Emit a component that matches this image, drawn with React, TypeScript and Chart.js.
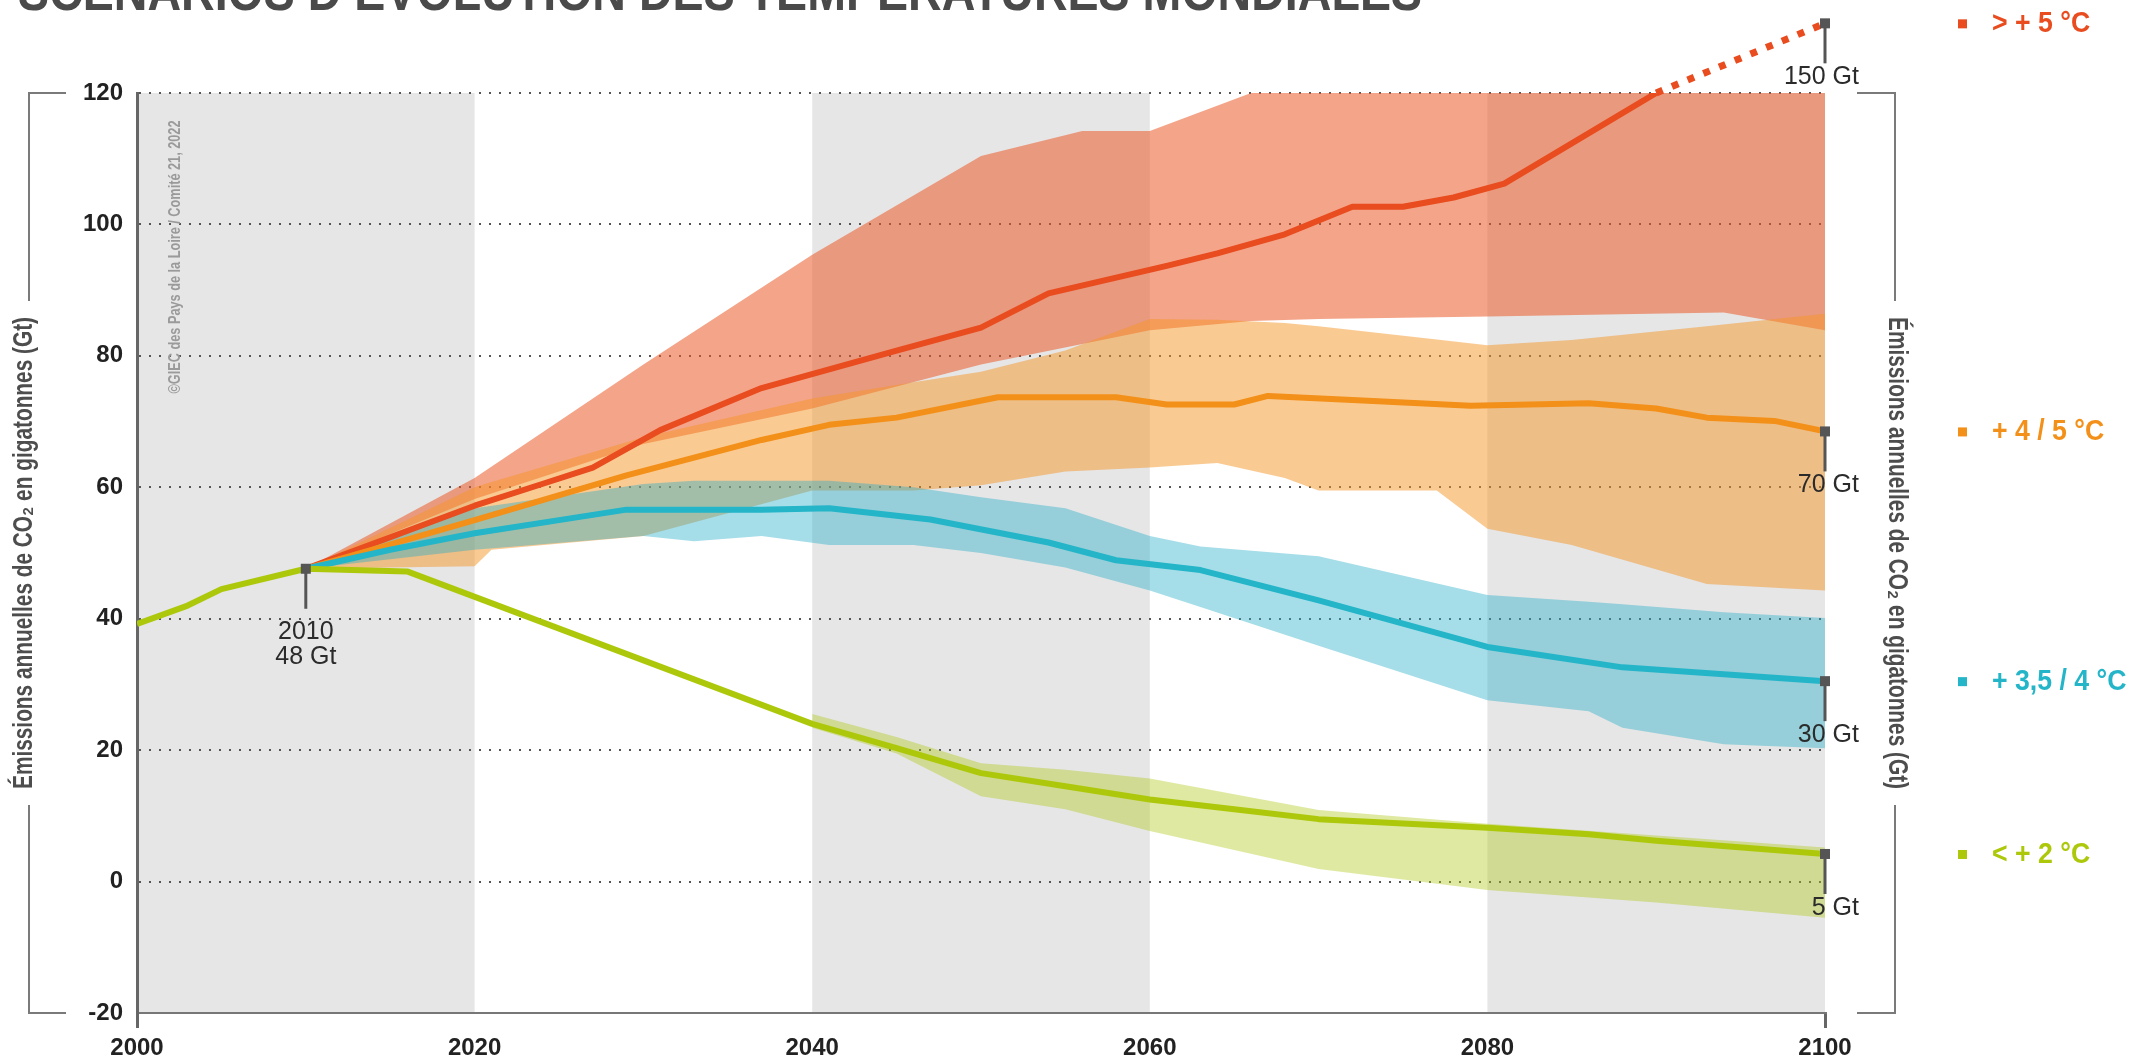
import React, { useEffect, useRef } from "react";
import { Chart, registerables } from "chart.js";

Chart.register(...registerables);

// ---------- DATA ----------
const titleText = "SCÉNARIOS D’ÉVOLUTION DES TEMPÉRATURES MONDIALES";
const leftAxisTitle = "Émissions annuelles de CO₂ en gigatonnes (Gt)";
const rightAxisTitle = "Émissions annuelles de CO₂ en gigatonnes (Gt)";
const creditText = "©GIEC des Pays de la Loire / Comité 21, 2022";

const shadedStarts = [2000, 2040, 2080];
const shadedEnds = [2020, 2060, 2100];

// > +5 °C
const redYears = [2010, 2020, 2024, 2027, 2031, 2037, 2045, 2050, 2054, 2061, 2064, 2068, 2072, 2075, 2078, 2081, 2090];
const redValues = [47.6, 57.2, 60.5, 63, 68.7, 75.1, 80.8, 84.3, 89.5, 93.7, 95.6, 98.5, 102.7, 102.7, 104.1, 106.2, 120];
const redDotYears = [2090, 2100];
const redDotValues = [120, 130.6];
const redBandYears = [2010, 2020, 2030, 2040, 2050, 2056, 2060, 2066, 2070, 2080, 2094, 2100];
const redBandUpper = [47.6, 61.4, 78.7, 95.4, 110.4, 114.2, 114.2, 120, 120, 120, 120, 120];
const redBandLower = [47.6, 58.2, 66.6, 72, 78.7, 81.8, 83.9, 85.3, 85.6, 86, 86.6, 83.9];

// +4 / 5 °C
const orangeYears = [2010, 2020, 2029, 2037, 2041, 2045, 2051, 2058, 2061, 2065, 2067, 2072, 2079, 2086, 2090, 2093, 2097, 2100];
const orangeValues = [47.6, 55, 61.8, 67.2, 69.5, 70.6, 73.7, 73.7, 72.6, 72.6, 73.9, 73.3, 72.4, 72.8, 72, 70.6, 70.1, 68.5];
const orangeBandYears = [2010, 2020, 2021, 2030, 2040, 2046, 2050, 2055, 2060, 2064, 2068, 2070, 2077, 2080, 2085, 2093, 2100];
const orangeBandUpper = [47.6, 60, 60.8, 67.6, 73.5, 76, 77.6, 80.8, 85.6, 85.5, 85, 84.5, 82.5, 81.6, 82.4, 84.5, 86.4];
const orangeBandLower = [47.6, 48, 50.5, 52.6, 59.5, 59.5, 60.3, 62.4, 63, 63.7, 61.4, 59.5, 59.5, 53.7, 51.2, 45.3, 44.3];

// +3,5 / 4 °C
const tealYears = [2010, 2015, 2020, 2025, 2029, 2037, 2041, 2047, 2054, 2058, 2063, 2070, 2080, 2088, 2100];
const tealValues = [47.6, 50.5, 53, 55, 56.6, 56.6, 56.8, 55.1, 51.6, 48.9, 47.4, 42.8, 35.7, 32.6, 30.5];
const tealBandYears = [2010, 2020, 2030, 2033, 2037, 2041, 2046, 2050, 2055, 2060, 2063, 2070, 2080, 2086, 2088, 2094, 2100];
const tealBandUpper = [47.6, 56.8, 60.5, 61, 61, 61, 60, 58.5, 56.8, 52.6, 51, 49.5, 43.6, 42.6, 42.2, 41, 40.1];
const tealBandLower = [47.6, 50.5, 52.6, 51.8, 52.6, 51.2, 51.2, 50, 47.8, 44.3, 41.8, 35.9, 27.6, 25.9, 23.4, 20.9, 20.3];

// < +2 °C (with historical emissions 2000-2010)
const limeYears = [2000, 2003, 2005, 2010, 2016, 2040, 2045, 2050, 2055, 2060, 2065, 2070, 2080, 2086, 2090, 2100];
const limeValues = [39.2, 42, 44.5, 47.6, 47.2, 24, 20.3, 16.5, 14.5, 12.5, 11, 9.5, 8.2, 7.2, 6.2, 4.2];
const limeBandYears = [2040, 2045, 2050, 2055, 2060, 2070, 2080, 2090, 2100];
const limeBandUpper = [25.5, 22, 18, 17, 15.7, 10.9, 8.8, 7, 5.2];
const limeBandLower = [23.4, 19.5, 13, 11, 7.7, 1.9, -1.3, -3.2, -5.5];

const markerYears = [2010, 2100, 2100, 2100, 2100];
const markerValues = [47.6, 130.6, 68.5, 30.5, 4.2];
const markerLabels = [["2010", "48 Gt"], ["150 Gt"], ["70 Gt"], ["30 Gt"], ["5 Gt"]];

const legendLabels = ["> + 5 °C", "+ 4 / 5 °C", "+ 3,5 / 4 °C", "< + 2 °C"];
const legendAnchorValues = [130.6, 68.5, 30.5, 4.2];

const yTickValues = [-20, 0, 20, 40, 60, 80, 100, 120];
const xTickValues = [2000, 2020, 2040, 2060, 2080, 2100];

// ---------- STYLE ----------
const RED = "#e84c1f";
const ORANGE = "#f39019";
const TEAL = "#24b5c8";
const LIME = "#adc80b";
const legendColors = [RED, ORANGE, TEAL, LIME];
const FONT = "'Liberation Sans', Arial, sans-serif";

const pts = (xs: number[], ys: number[]) => xs.map((x, i) => ({ x, y: ys[i] }));

const lineDs = (data: any, color: string, order: number, extra: any = {}) => ({
  data,
  borderColor: color,
  backgroundColor: color,
  borderWidth: 6,
  pointRadius: 0,
  fill: false,
  tension: 0,
  order,
  borderJoinStyle: "round",
  ...extra,
});

const bandLower = (data: any, order: number) => ({
  data,
  borderColor: "transparent",
  borderWidth: 0,
  pointRadius: 0,
  fill: false,
  order,
});
const bandUpper = (data: any, color: string, order: number) => ({
  data,
  borderColor: "transparent",
  borderWidth: 0,
  pointRadius: 0,
  fill: "-1",
  backgroundColor: color,
  order,
});

function drawText(
  ctx: CanvasRenderingContext2D,
  text: string,
  x: number,
  y: number,
  font: string,
  color: string,
  align: CanvasTextAlign,
  baseline: CanvasTextBaseline,
  targetWidth?: number,
  rotation = 0,
  scaleX = 1
) {
  ctx.save();
  ctx.translate(x, y);
  ctx.rotate(rotation);
  ctx.font = font;
  const w = ctx.measureText(text).width;
  if (targetWidth) ctx.scale(targetWidth / w, 1);
  else if (scaleX !== 1) ctx.scale(scaleX, 1);
  ctx.fillStyle = color;
  ctx.textAlign = align;
  ctx.textBaseline = baseline;
  ctx.fillText(text, 0, 0);
  ctx.restore();
}

const bgPlugin = {
  id: "bgBands",
  beforeDraw(chart: any) {
    const { ctx, chartArea: a, scales } = chart;
    const x = scales.x;
    ctx.save();
    ctx.fillStyle = "#e6e6e6";
    shadedStarts.forEach((s, i) => {
      const x0 = x.getPixelForValue(s);
      const x1 = x.getPixelForValue(shadedEnds[i]);
      ctx.fillRect(x0, a.top, x1 - x0, a.bottom - a.top);
    });
    ctx.restore();
  },
};

const fgPlugin = {
  id: "foreground",
  afterDraw(chart: any) {
    const { ctx, chartArea: a, scales } = chart;
    const x = scales.x;
    const y = scales.y;
    const midY = (a.top + a.bottom) / 2;

    // cut-off title
    drawText(ctx, titleText, 18, 10, `bold 54px ${FONT}`, "#4a4a4a", "left", "alphabetic", 1404);

    // credit
    drawText(ctx, creditText, 176, 257, `bold 16px ${FONT}`, "#9a9a9a", "center", "middle", 273, -Math.PI / 2);

    // axis titles + brackets
    const tW = 472;
    drawText(ctx, leftAxisTitle, 24, midY, `bold 28px ${FONT}`, "#4d4d4d", "center", "middle", tW, -Math.PI / 2);
    drawText(ctx, rightAxisTitle, 1897, midY, `bold 28px ${FONT}`, "#4d4d4d", "center", "middle", tW, Math.PI / 2);

    ctx.save();
    ctx.strokeStyle = "#7a7a7a";
    ctx.lineWidth = 2;
    const gapTop = midY - tW / 2 - 16;
    const gapBot = midY + tW / 2 + 16;
    ctx.beginPath();
    ctx.moveTo(66, a.top); ctx.lineTo(29, a.top); ctx.lineTo(29, gapTop);
    ctx.moveTo(29, gapBot); ctx.lineTo(29, a.bottom); ctx.lineTo(66, a.bottom);
    ctx.moveTo(1857, a.top); ctx.lineTo(1895, a.top); ctx.lineTo(1895, gapTop);
    ctx.moveTo(1895, gapBot); ctx.lineTo(1895, a.bottom); ctx.lineTo(1857, a.bottom);
    ctx.stroke();
    ctx.restore();

    // markers + annotations
    markerYears.forEach((yr, i) => {
      const px = x.getPixelForValue(yr);
      const py = y.getPixelForValue(markerValues[i]);
      ctx.save();
      ctx.strokeStyle = "#555";
      ctx.lineWidth = 3;
      ctx.beginPath();
      ctx.moveTo(px, py);
      ctx.lineTo(px, py + 40);
      ctx.stroke();
      ctx.fillStyle = "#555";
      ctx.fillRect(px - 5, py - 5, 10, 10);
      ctx.restore();
      const lines = markerLabels[i];
      const isRight = yr === 2100;
      lines.forEach((t, j) => {
        drawText(
          ctx, t,
          isRight ? px + 34 : px,
          py + (isRight ? 54 : 63) + j * 25,
          `25px ${FONT}`, "#2b2b2b",
          isRight ? "right" : "center", "middle"
        );
      });
    });

    // legend
    legendLabels.forEach((lab, i) => {
      const py = y.getPixelForValue(legendAnchorValues[i]);
      ctx.save();
      ctx.fillStyle = legendColors[i];
      ctx.fillRect(1958, py - 4, 9, 9);
      ctx.restore();
      drawText(ctx, lab, 1992, py + 1, `bold 29px ${FONT}`, legendColors[i], "left", "middle", undefined, 0, 0.92);
    });
  },
};

export default function App() {
  const ref = useRef<HTMLCanvasElement | null>(null);
  useEffect(() => {
    document.body.style.margin = "0";
    document.body.style.overflow = "hidden";
    const canvas = ref.current!;
    const chart = new Chart(canvas, {
      type: "line",
      data: {
        datasets: [
          bandLower(pts(redBandYears, redBandLower), 14),
          bandUpper(pts(redBandYears, redBandUpper), "rgba(235,90,40,0.55)", 14),
          bandLower(pts(orangeBandYears, orangeBandLower), 13),
          bandUpper(pts(orangeBandYears, orangeBandUpper), "rgba(245,150,40,0.5)", 13),
          bandLower(pts(tealBandYears, tealBandLower), 12),
          bandUpper(pts(tealBandYears, tealBandUpper), "rgba(40,175,200,0.42)", 12),
          bandLower(pts(limeBandYears, limeBandLower), 11),
          bandUpper(pts(limeBandYears, limeBandUpper), "rgba(175,200,20,0.4)", 11),
          lineDs(pts(redYears, redValues), RED, 4),
          lineDs(pts(redDotYears, redDotValues), RED, 4, { borderDash: [7, 10], borderWidth: 7, borderCapStyle: "butt", clip: false }),
          lineDs(pts(orangeYears, orangeValues), ORANGE, 3),
          lineDs(pts(tealYears, tealValues), TEAL, 2),
          lineDs(pts(limeYears, limeValues), LIME, 1),
        ] as any,
      },
      options: {
        responsive: false,
        animation: false,
        devicePixelRatio: 1,
        events: [],
        layout: { padding: { left: 0, top: 93, right: 326, bottom: 0 } },
        plugins: {
          legend: { display: false },
          tooltip: { enabled: false },
          filler: { propagate: false },
        },
        scales: {
          x: {
            type: "linear",
            min: 2000,
            max: 2100,
            afterBuildTicks: (s: any) => { s.ticks = xTickValues.map((v) => ({ value: v })); },
            afterFit: (s: any) => { s.height = 50; },
            ticks: {
              callback: (v: any) => String(v),
              font: { family: FONT, size: 24, weight: "bold" },
              color: "#222",
              padding: 6,
              maxRotation: 0,
            },
            grid: {
              drawOnChartArea: false,
              drawTicks: true,
              tickLength: 15,
              lineWidth: 3,
              color: (c: any) => (c.tick && (c.tick.value === 2000 || c.tick.value === 2100) ? "#666" : "transparent"),
            },
            border: { display: true, color: "#777", width: 2 },
          },
          y: {
            type: "linear",
            min: -20,
            max: 120,
            afterBuildTicks: (s: any) => { s.ticks = yTickValues.map((v) => ({ value: v })); },
            afterFit: (s: any) => { s.width = 137; },
            ticks: {
              callback: (v: any) => String(v),
              font: { family: FONT, size: 24, weight: "bold" },
              color: "#222",
              padding: 14,
            },
            grid: {
              drawTicks: false,
              lineWidth: 2,
              color: (c: any) => (c.tick && c.tick.value > -20 ? "#555" : "transparent"),
            },
            border: { display: true, color: "#666", width: 3, dash: [2, 8] } as any,
          },
        },
      } as any,
      plugins: [bgPlugin, fgPlugin],
    });
    return () => chart.destroy();
  }, []);
  return (
    <div style={{ width: 2151, height: 1063, position: "relative" }}>
      <canvas ref={ref} width={2151} height={1063} style={{ display: "block" }} />
    </div>
  );
}
